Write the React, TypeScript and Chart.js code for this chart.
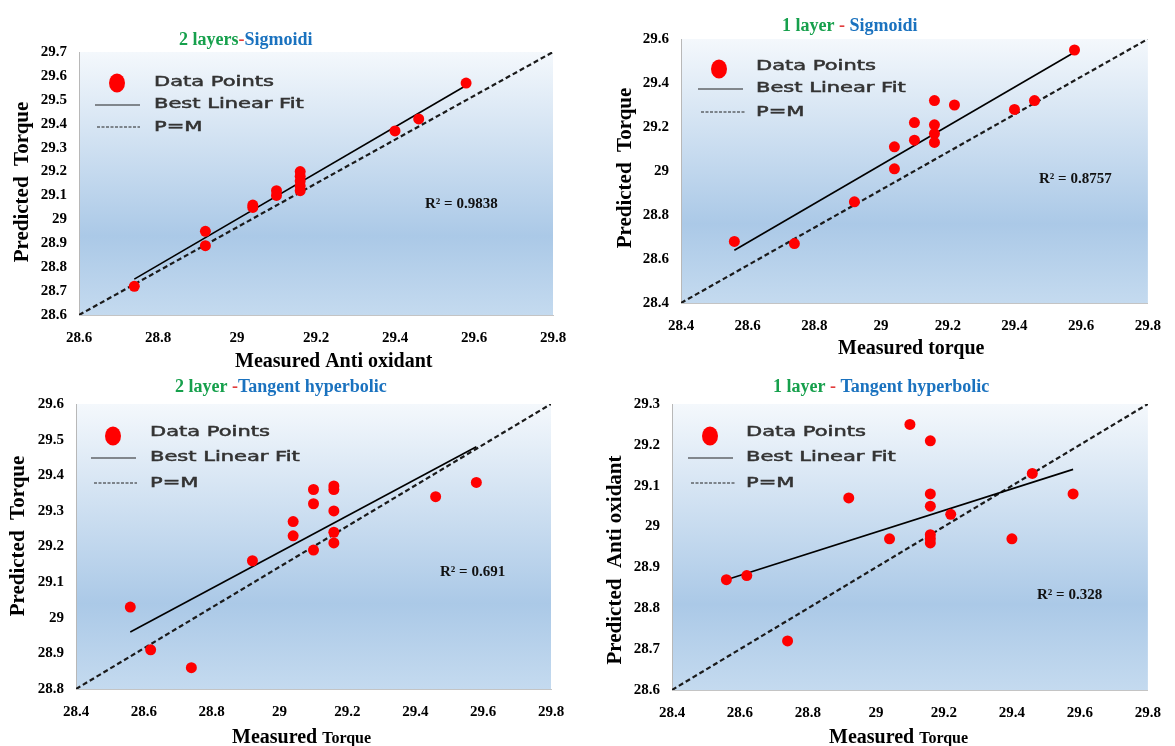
import React, { useEffect, useRef } from "react";
import { Chart, registerables } from "chart.js";
Chart.register(...registerables);

// ---------- Panel 1: 2 layers - Sigmoidi ----------
const p1Measured = [28.74, 28.92, 28.92, 29.04, 29.04, 29.1, 29.1, 29.16, 29.16, 29.16, 29.16, 29.16, 29.4, 29.46, 29.58];
const p1Predicted = [28.72, 28.95, 28.89, 29.06, 29.05, 29.12, 29.1, 29.2, 29.18, 29.16, 29.14, 29.12, 29.37, 29.42, 29.57];
const p1FitX = [28.74, 29.58];
const p1FitY = [28.75, 29.56];
const p1PmX = [28.6, 29.8];
const p1PmY = [28.6, 29.7];
const p1XTicks = [28.6, 28.8, 29, 29.2, 29.4, 29.6, 29.8];
const p1YTicks = [28.6, 28.7, 28.8, 28.9, 29, 29.1, 29.2, 29.3, 29.4, 29.5, 29.6, 29.7];

// ---------- Panel 2: 1 layer - Sigmoidi ----------
const p2Measured = [28.56, 28.74, 28.92, 29.04, 29.04, 29.1, 29.1, 29.16, 29.16, 29.16, 29.16, 29.22, 29.4, 29.46, 29.58];
const p2Predicted = [28.68, 28.67, 28.86, 29.01, 29.11, 29.22, 29.14, 29.32, 29.21, 29.17, 29.13, 29.3, 29.28, 29.32, 29.55];
const p2FitX = [28.56, 29.58];
const p2FitY = [28.64, 29.54];
const p2PmX = [28.4, 29.8];
const p2PmY = [28.4, 29.6];
const p2XTicks = [28.4, 28.6, 28.8, 29, 29.2, 29.4, 29.6, 29.8];
const p2YTicks = [28.4, 28.6, 28.8, 29, 29.2, 29.4, 29.6];

// ---------- Panel 3: 2 layer - Tangent hyperbolic ----------
const p3Measured = [28.56, 28.62, 28.74, 28.92, 29.04, 29.04, 29.1, 29.1, 29.1, 29.16, 29.16, 29.16, 29.16, 29.16, 29.46, 29.58];
const p3Predicted = [29.03, 28.91, 28.86, 29.16, 29.27, 29.23, 29.36, 29.32, 29.19, 29.37, 29.36, 29.3, 29.24, 29.21, 29.34, 29.38];
const p3FitX = [28.56, 29.58];
const p3FitY = [28.96, 29.48];
const p3PmX = [28.4, 29.8];
const p3PmY = [28.8, 29.6];
const p3XTicks = [28.4, 28.6, 28.8, 29, 29.2, 29.4, 29.6, 29.8];
const p3YTicks = [28.8, 28.9, 29, 29.1, 29.2, 29.3, 29.4, 29.5, 29.6];

// ---------- Panel 4: 1 layer - Tangent hyperbolic ----------
const p4Measured = [28.56, 28.62, 28.74, 28.92, 29.04, 29.1, 29.16, 29.16, 29.16, 29.16, 29.16, 29.16, 29.22, 29.4, 29.46, 29.58];
const p4Predicted = [28.87, 28.88, 28.72, 29.07, 28.97, 29.25, 29.21, 29.08, 29.05, 28.98, 28.97, 28.96, 29.03, 28.97, 29.13, 29.08];
const p4FitX = [28.56, 29.58];
const p4FitY = [28.87, 29.14];
const p4PmX = [28.4, 29.8];
const p4PmY = [28.6, 29.3];
const p4XTicks = [28.4, 28.6, 28.8, 29, 29.2, 29.4, 29.6, 29.8];
const p4YTicks = [28.6, 28.7, 28.8, 28.9, 29, 29.1, 29.2, 29.3];

const legendLabels = ["Data Points", "Best Linear Fit", "P=M"];

const GREEN = "#16a04c";
const BLUE = "#1a72bf";
const RED = "#e23c3c";
const SERIF = "'Liberation Serif', 'Times New Roman', serif";

type Seg = { t: string; c: string; s?: number };

type PanelCfg = {
  box: { x: number; y: number; w: number; h: number };
  area: { l: number; t: number; r: number; b: number };
  measured: number[];
  predicted: number[];
  fitX: number[];
  fitY: number[];
  pmX: number[];
  pmY: number[];
  xTicks: number[];
  yTicks: number[];
  title: Seg[];
  titlePos: [number, number];
  yTitle: string;
  yTitlePos: [number, number];
  xTitle: Seg[];
  xTitlePos: [number, number];
  r2: string;
  r2Pos: [number, number];
  legend: { ex: number; ey: number; tx: number; rows: number[]; l1: [number, number]; l2: [number, number] };
};

const panels: PanelCfg[] = [
  {
    box: { x: 0, y: 0, w: 590, h: 370 },
    area: { l: 79, t: 52, r: 553, b: 315 },
    measured: p1Measured, predicted: p1Predicted, fitX: p1FitX, fitY: p1FitY, pmX: p1PmX, pmY: p1PmY,
    xTicks: p1XTicks, yTicks: p1YTicks,
    title: [{ t: "2 layers", c: GREEN }, { t: "-", c: RED }, { t: "Sigmoidi", c: BLUE }],
    titlePos: [179, 40],
    yTitle: "Predicted  Torque", yTitlePos: [23, 182],
    xTitle: [{ t: "Measured Anti oxidant", c: "#000", s: 20 }], xTitlePos: [235, 360],
    r2: "R² = 0.9838", r2Pos: [425, 204],
    legend: { ex: 117, ey: 83, tx: 154, rows: [82, 104, 127], l1: [95, 140], l2: [97, 140] },
  },
  {
    box: { x: 590, y: 0, w: 585, h: 370 },
    area: { l: 681, t: 39, r: 1157, b: 303 },
    measured: p2Measured, predicted: p2Predicted, fitX: p2FitX, fitY: p2FitY, pmX: p2PmX, pmY: p2PmY,
    xTicks: p2XTicks, yTicks: p2YTicks,
    title: [{ t: "1 layer", c: GREEN }, { t: " - ", c: RED }, { t: "Sigmoidi", c: BLUE }],
    titlePos: [782, 26],
    yTitle: "Predicted  Torque", yTitlePos: [626, 168],
    xTitle: [{ t: "Measured torque", c: "#000", s: 20 }], xTitlePos: [838, 347],
    r2: "R² = 0.8757", r2Pos: [1039, 179],
    legend: { ex: 719, ey: 69, tx: 756, rows: [66, 88, 112], l1: [698, 743], l2: [701, 745] },
  },
  {
    box: { x: 0, y: 370, w: 590, h: 376 },
    area: { l: 76, t: 404, r: 551, b: 689 },
    measured: p3Measured, predicted: p3Predicted, fitX: p3FitX, fitY: p3FitY, pmX: p3PmX, pmY: p3PmY,
    xTicks: p3XTicks, yTicks: p3YTicks,
    title: [{ t: "2 layer ", c: GREEN }, { t: "-", c: RED }, { t: "Tangent hyperbolic", c: BLUE }],
    titlePos: [175, 387],
    yTitle: "Predicted  Torque", yTitlePos: [19, 536],
    xTitle: [{ t: "Measured ", c: "#000", s: 20 }, { t: "Torque", c: "#000", s: 16 }], xTitlePos: [232, 736],
    r2: "R² = 0.691", r2Pos: [440, 572],
    legend: { ex: 113, ey: 436, tx: 150, rows: [432, 457, 483], l1: [91, 136], l2: [94, 137] },
  },
  {
    box: { x: 590, y: 370, w: 585, h: 376 },
    area: { l: 672, t: 404, r: 1148, b: 690 },
    measured: p4Measured, predicted: p4Predicted, fitX: p4FitX, fitY: p4FitY, pmX: p4PmX, pmY: p4PmY,
    xTicks: p4XTicks, yTicks: p4YTicks,
    title: [{ t: "1 layer", c: GREEN }, { t: " - ", c: RED }, { t: "Tangent hyperbolic", c: BLUE }],
    titlePos: [773, 387],
    yTitle: "Predicted  Anti oxidant", yTitlePos: [616, 560],
    xTitle: [{ t: "Measured ", c: "#000", s: 20 }, { t: "Torque", c: "#000", s: 16 }], xTitlePos: [829, 736],
    r2: "R² = 0.328", r2Pos: [1037, 595],
    legend: { ex: 710, ey: 436, tx: 746, rows: [432, 457, 483], l1: [688, 733], l2: [691, 735] },
  },
];

const fmt = (v: number) => String(Number(Number(v).toFixed(1)));

function Panel({ cfg }: { cfg: PanelCfg }) {
  const ref = useRef<HTMLCanvasElement | null>(null);
  useEffect(() => {
    const { box, area } = cfg;
    const ox = box.x, oy = box.y;
    const decor = {
      id: "decor",
      beforeDraw(chart: any) {
        const ctx = chart.ctx;
        const a = chart.chartArea;
        const g = ctx.createLinearGradient(0, a.top, 0, a.bottom);
        g.addColorStop(0, "#f4f8fc");
        g.addColorStop(0.7, "#abc9e7");
        g.addColorStop(1, "#c4daef");
        ctx.save();
        ctx.fillStyle = g;
        ctx.fillRect(a.left, a.top, a.right - a.left, a.bottom - a.top);
        ctx.restore();
      },
      afterDraw(chart: any) {
        const ctx = chart.ctx;
        ctx.save();
        // title
        let x = cfg.titlePos[0] - ox;
        ctx.font = `bold 18px ${SERIF}`;
        ctx.textBaseline = "middle";
        ctx.textAlign = "left";
        for (const s of cfg.title) {
          ctx.fillStyle = s.c;
          ctx.fillText(s.t, x, cfg.titlePos[1] - oy);
          x += ctx.measureText(s.t).width;
        }
        // x title
        x = cfg.xTitlePos[0] - ox;
        ctx.textBaseline = "alphabetic";
        for (const s of cfg.xTitle) {
          ctx.font = `bold ${s.s}px ${SERIF}`;
          ctx.fillStyle = s.c;
          ctx.fillText(s.t, x, cfg.xTitlePos[1] - oy + 7);
          x += ctx.measureText(s.t).width;
        }
        // y title
        ctx.save();
        ctx.translate(cfg.yTitlePos[0] - ox, cfg.yTitlePos[1] - oy);
        ctx.rotate(-Math.PI / 2);
        ctx.font = `bold 21px ${SERIF}`;
        ctx.fillStyle = "#000";
        ctx.textAlign = "center";
        ctx.textBaseline = "middle";
        ctx.fillText(cfg.yTitle, 0, 0);
        ctx.restore();
        // R2
        ctx.font = `bold 15px ${SERIF}`;
        ctx.fillStyle = "#111";
        ctx.textAlign = "left";
        ctx.textBaseline = "middle";
        ctx.fillText(cfg.r2, cfg.r2Pos[0] - ox, cfg.r2Pos[1] - oy);
        // legend
        const L = cfg.legend;
        ctx.fillStyle = "#ff0000";
        ctx.beginPath();
        ctx.ellipse(L.ex - ox, L.ey - oy, 8, 9.5, 0, 0, Math.PI * 2);
        ctx.fill();
        ctx.strokeStyle = "#222";
        ctx.lineWidth = 1.2;
        ctx.beginPath();
        ctx.moveTo(L.l1[0] - ox, L.rows[1] - oy + 1);
        ctx.lineTo(L.l1[1] - ox, L.rows[1] - oy + 1);
        ctx.stroke();
        ctx.lineWidth = 1;
        ctx.setLineDash([3, 1.5]);
        ctx.beginPath();
        ctx.moveTo(L.l2[0] - ox, L.rows[2] - oy);
        ctx.lineTo(L.l2[1] - ox, L.rows[2] - oy);
        ctx.stroke();
        ctx.setLineDash([]);
        ctx.font = `14px 'DejaVu Sans', sans-serif`;
        ctx.fillStyle = "#333";
        ctx.strokeStyle = "#333";
        ctx.lineWidth = 0.5;
        ctx.textBaseline = "middle";
        legendLabels.forEach((t, i) => {
          ctx.save();
          ctx.translate(L.tx - ox, L.rows[i] - oy);
          ctx.scale(1.5, 1);
          ctx.fillText(t, 0, 0);
          ctx.strokeText(t, 0, 0);
          ctx.restore();
        });
        ctx.restore();
      },
    };

    const tickFont = { family: SERIF, weight: "bold" as const, size: 15 };
    const chart = new Chart(ref.current as HTMLCanvasElement, {
      type: "scatter",
      data: {
        datasets: [
          {
            label: legendLabels[0],
            data: cfg.measured.map((v, i) => ({ x: v, y: cfg.predicted[i] })),
            backgroundColor: "#ff0000",
            borderColor: "#ff0000",
            pointRadius: 5.5,
            pointBorderWidth: 0,
          },
          {
            label: legendLabels[1],
            data: cfg.fitX.map((v, i) => ({ x: v, y: cfg.fitY[i] })),
            showLine: true,
            borderColor: "#000",
            borderWidth: 1.6,
            pointRadius: 0,
          },
          {
            label: legendLabels[2],
            data: cfg.pmX.map((v, i) => ({ x: v, y: cfg.pmY[i] })),
            showLine: true,
            borderColor: "#1a1a1a",
            borderWidth: 2.2,
            borderDash: [5, 3],
            pointRadius: 0,
          },
        ],
      },
      options: {
        animation: false,
        responsive: false,
        maintainAspectRatio: false,
        layout: { padding: { left: 0, top: area.t - oy, right: ox + box.w - area.r, bottom: 0 } },
        plugins: { legend: { display: false }, tooltip: { enabled: false }, title: { display: false } },
        scales: {
          x: {
            type: "linear",
            min: cfg.xTicks[0],
            max: cfg.xTicks[cfg.xTicks.length - 1],
            afterBuildTicks: (s: any) => { s.ticks = cfg.xTicks.map((v) => ({ value: v })); },
            afterFit: (s: any) => { s.height = oy + box.h - area.b; },
            grid: { display: false, drawTicks: false },
            border: { display: true, color: "#c4c4c4", width: 1 },
            ticks: { padding: 14, color: "#000", font: tickFont, autoSkip: false, maxRotation: 0, callback: (v: any) => fmt(v) },
          },
          y: {
            type: "linear",
            min: cfg.yTicks[0],
            max: cfg.yTicks[cfg.yTicks.length - 1],
            afterBuildTicks: (s: any) => { s.ticks = cfg.yTicks.map((v) => ({ value: v })); },
            afterFit: (s: any) => { s.width = area.l - ox; },
            grid: { display: false, drawTicks: false },
            border: { display: true, color: "#b8b8b8", width: 1 },
            ticks: { padding: 12, color: "#000", font: tickFont, autoSkip: false, callback: (v: any) => fmt(v) },
          },
        },
      },
      plugins: [decor],
    } as any);
    return () => chart.destroy();
  }, [cfg]);
  const { box } = cfg;
  return (
    <canvas
      ref={ref}
      width={box.w}
      height={box.h}
      style={{ position: "absolute", left: box.x, top: box.y, width: box.w, height: box.h, display: "block" }}
    />
  );
}

export default function App() {
  return (
    <div style={{ position: "absolute", left: 0, top: 0, width: 1175, height: 746, background: "#fff", overflow: "hidden" }}>
      {panels.map((p, i) => (
        <Panel key={i} cfg={p} />
      ))}
    </div>
  );
}
